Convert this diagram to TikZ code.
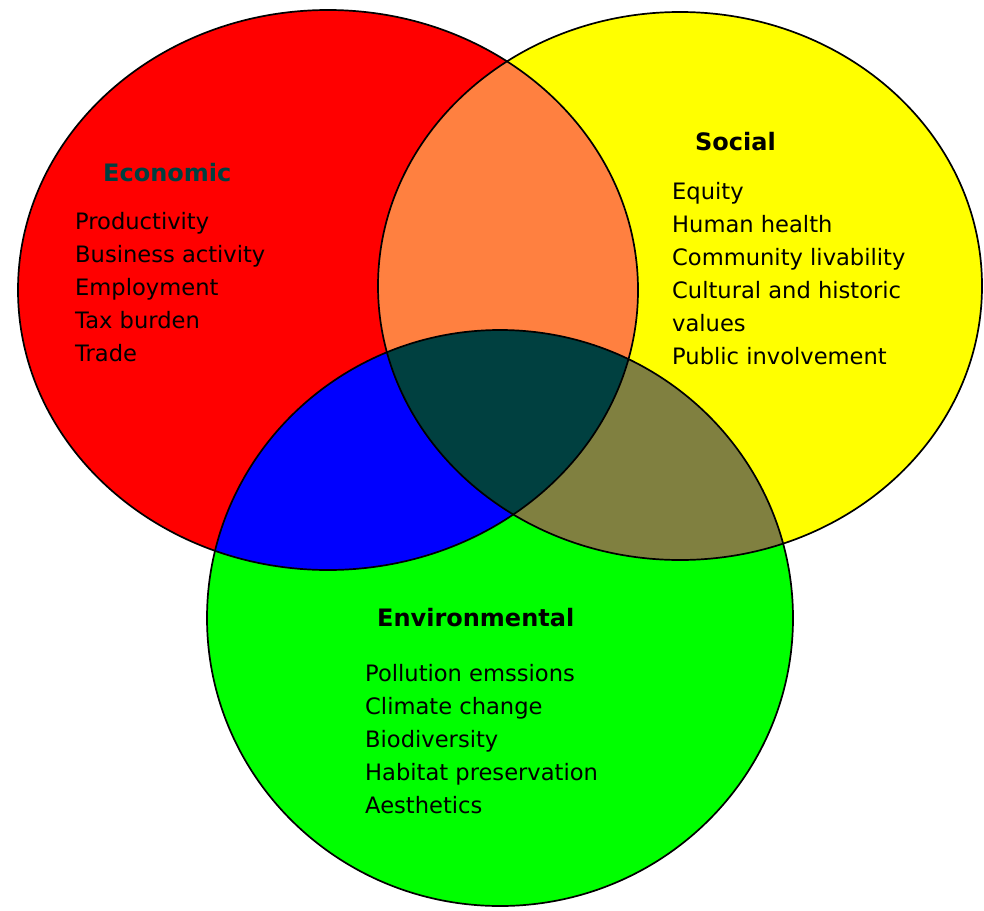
\documentclass[tikz,border=0pt]{standalone}
\usepackage{fontspec}
\setmainfont{DejaVu Sans}

\definecolor{econred}{HTML}{FF0000}
\definecolor{socyellow}{HTML}{FFFF00}
\definecolor{envgreen}{HTML}{00FF00}
\definecolor{ecosoc}{HTML}{FF8040}
\definecolor{ecoenv}{HTML}{0000FF}
\definecolor{socenv}{HTML}{808040}
\definecolor{allthree}{HTML}{004040}

% the three circles
\newcommand{\econshape}{(328,290) ellipse [x radius=310, y radius=280]}
\newcommand{\socshape}{(680,286) ellipse [x radius=302, y radius=274]}
\newcommand{\envshape}{(500,618) ellipse [x radius=293, y radius=288]}

\begin{document}
\begin{tikzpicture}[
        x=1pt, y=-1pt,
        heading/.style={
            anchor=base west, inner sep=0pt,
            font=\bfseries\fontsize{24}{33}\selectfont
        },
        itemlist/.style={
            anchor=north west, inner sep=0pt, align=left,
            font=\fontsize{22.6}{33}\selectfont
        },
        outline/.style={draw=black, line width=1.7pt}
    ]
        \useasboundingbox (0,0) rectangle (984,910);

        % Kreise
        \fill[econred] \econshape;
        \fill[socyellow] \socshape;
        \fill[envgreen] \envshape;

        % Schnittmengen
        \begin{scope}
            \clip \econshape;
            \fill[ecosoc] \socshape;
            \fill[ecoenv] \envshape;
            \clip \socshape;
            \fill[allthree] \envshape;
        \end{scope}
        \begin{scope}
            \clip \socshape;
            \clip \envshape;
            \fill[socenv] (0,0) rectangle (984,910);
            \clip \econshape;
            \fill[allthree] (0,0) rectangle (984,910);
        \end{scope}

        \draw[outline] \econshape;
        \draw[outline] \socshape;
        \draw[outline] \envshape;

        % Texte
        \node[heading, text=allthree] (econtitle) at (103,181) {Economic};
        \node[itemlist] (econitems) at (75,212) {
            Productivity\\
            Business activity\\
            Employment\\
            Tax burden\\
            Trade
        };

        \node[heading] (soctitle) at (695,150) {Social};
        \node[itemlist] (socitems) at (672,182) {
            Equity\\
            Human health\\
            Community livability\\
            Cultural and historic\\
            values\\
            Public involvement
        };

        \node[heading] (envtitle) at (377,626) {Environmental};
        \node[itemlist] (envitems) at (365,664) {
            Pollution emssions\\
            Climate change\\
            Biodiversity\\
            Habitat preservation\\
            Aesthetics
        };

    \end{tikzpicture}
\end{document}
